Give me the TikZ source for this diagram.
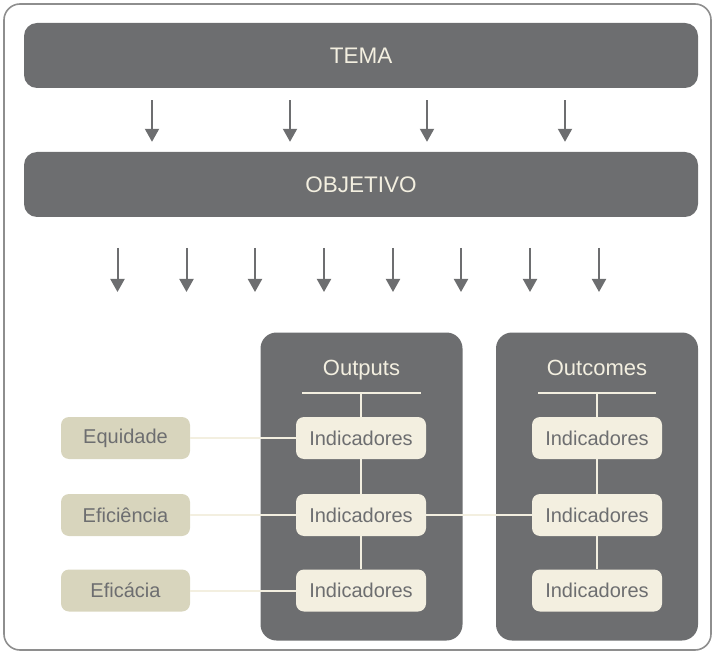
\documentclass[tikz,border=0pt]{standalone}
\usepackage{fontspec}
\setmainfont{Liberation Sans}
\usetikzlibrary{arrows.meta}
\definecolor{slate}{HTML}{6D6E70}
\definecolor{cream}{HTML}{F3EFE0}
\definecolor{khaki}{HTML}{D8D5BD}
\definecolor{framegray}{HTML}{8E8E8E}
\tikzset{
  banner/.style={fill=slate, rounded corners=13pt, minimum width=674pt, minimum height=65pt,
    inner sep=0pt, text=cream, font=\fontsize{22.5}{26}\selectfont},
  panel/.style={fill=slate, rounded corners=16pt, minimum width=202pt, minimum height=308pt, inner sep=0pt},
  paneltitle/.style={text=cream, font=\fontsize{22}{26}\selectfont, inner sep=0pt,
    text height=16pt, text depth=4.5pt},
  indbox/.style={fill=cream, rounded corners=8pt, minimum width=130pt, minimum height=42pt,
    inner sep=0pt, text=slate, font=\fontsize{20}{23}\selectfont},
  dimbox/.style={fill=khaki, rounded corners=8pt, minimum width=129pt, minimum height=42pt,
    inner sep=0pt, text=slate, font=\fontsize{20}{23}\selectfont},
  downarrow/.style={draw=slate, line width=2pt, -{Triangle[width=14pt,length=13pt]}},
  link/.style={draw=cream, line width=2pt},
}
\begin{document}
\begin{tikzpicture}[x=1pt,y=-1pt]
\useasboundingbox (0,0) rectangle (712,652);
% outer frame
\draw[framegray, line width=1.6pt, rounded corners=16pt] (4,4) rectangle (711,650);

% banners
\node[banner] (tema) at (361,55.5) {TEMA};
\node[banner] (obj) at (361,184.5) {OBJETIVO};

% arrows between the banners
\foreach \x in {152,290,427,565}
  \draw[downarrow] ([yshift=-12pt]tema.south -| \x,0) -- ([yshift=10pt]obj.north -| \x,0);

% arrows below the objective
\foreach \x [count=\i] in {117.5,186.5,255,324,393,461,530,599} {
  \coordinate (a\i) at (\x,248);
  \coordinate (b\i) at (\x,292);
  \draw[downarrow] (a\i) -- (b\i);
}

% panels
\node[panel] (outputs) at (361.5,486.5) {};
\node[panel] (outcomes) at (597,486.5) {};

\node[paneltitle] (tout) at (361.5,370) {Outputs};
\node[paneltitle] (tinc) at (597,370) {Outcomes};
\coordinate (lo1) at (302,393);
\coordinate (lo2) at (421,393);
\coordinate (li1) at (538,393);
\coordinate (li2) at (656,393);
\draw[link] (lo1) -- (lo2);
\draw[link] (li1) -- (li2);

% indicator boxes
\node[indbox] (o1) at (361,438) {Indicadores};
\node[indbox] (o2) at (361,515) {Indicadores};
\node[indbox] (o3) at (361,590.5) {Indicadores};
\node[indbox] (c1) at (597,438) {Indicadores};
\node[indbox] (c2) at (597,515) {Indicadores};
\node[indbox] (c3) at (597,590.5) {Indicadores};

% dimension boxes
\node[dimbox] (eq) at (125.5,438) {Equidade};
\node[dimbox] (ef) at (125.5,515) {Eficiência};
\node[dimbox] (ec) at (125.5,590.5) {Eficácia};

% connectors
\draw[link] (o1.north |- lo1) -- (o1.north);
\draw[link] (o1) -- (o2);
\draw[link] (o2) -- (o3);
\draw[link] (c1.north |- li1) -- (c1.north);
\draw[link] (c1) -- (c2);
\draw[link] (c2) -- (c3);
\draw[link] (eq) -- (o1);
\draw[link] (ef) -- (o2);
\draw[link] (ec) -- (o3);
\draw[link] (o2) -- (c2);
\end{tikzpicture}
\end{document}
